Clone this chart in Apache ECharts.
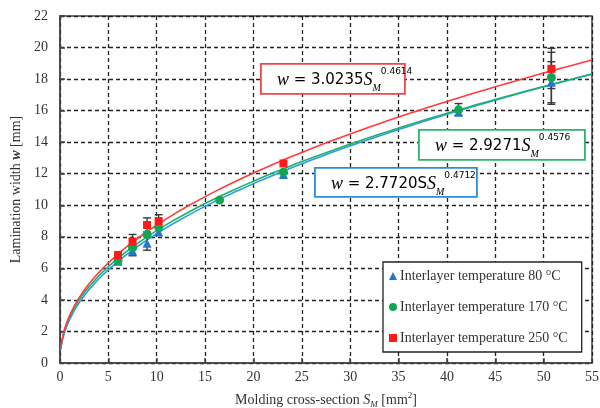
<!DOCTYPE html>
<html><head><meta charset="utf-8">
<script src="https://cdn.jsdelivr.net/npm/echarts@6/dist/echarts.min.js"></script>
<style>html,body{margin:0;padding:0;background:#fff}#c{width:600px;height:408px}</style>
</head><body><div id="c"></div>
<script>
// ---- data ----
const seriesNames = ['Interlayer temperature 80 °C','Interlayer temperature 170 °C','Interlayer temperature 250 °C'];
const xTicksMax = 55, yTicksMax = 22;
const blueX  = [6.0, 7.5, 9.0, 10.2, 23.1, 41.2, 50.8];
const blueY  = [6.45, 7.1, 7.6, 8.3, 11.95, 15.9, 17.8];
const greenX = [6.0, 7.5, 9.0, 10.2, 16.5, 23.1, 41.2, 50.8];
const greenY = [6.5, 7.3, 8.15, 8.6, 10.33, 12.1, 16.05, 18.1];
const redX   = [6.0, 7.5, 9.0, 10.2, 23.1, 50.8];
const redY   = [6.85, 7.7, 8.75, 9.0, 12.65, 18.65];
// error bars [x, low, high]
const blueErr  = [[7.5, 6.8, 7.4], [9.0, 7.15, 8.05], [50.8, 16.5, 19.1]];
const greenErr = [[41.2, 15.7, 16.45], [50.8, 16.4, 19.7]];
const redErr   = [[7.5, 7.25, 8.15], [9.0, 8.3, 9.2], [10.2, 8.6, 9.4], [50.8, 17.4, 19.95]];
// power-law fit coefficients shown on the chart: w = a * S^b
const fitA = [2.7720, 2.9271, 3.0235];
const fitB = [0.4712, 0.4576, 0.4614];
const fitText = ['2.7720S', '2.9271', '3.0235'];

const colors = ['#2478C8', '#12A652', '#FF1A1A'];
const curveColors = ['#2E9BE0', '#1DB26B', '#FF3B3B'];

function zip(xs, ys){ return xs.map((x,i)=>[x, ys[i]]); }
function fitCurve(a, b){
  const xs = [0.08, 0.15, 0.3, 0.5, 0.75, 1, 1.5, 2, 2.5, 3, 4, 5];
  for (let x = 6; x <= 55; x += 1) xs.push(x);
  return xs.map(x => [x, a * Math.pow(x, b)]);
}

const serif = 'Liberation Serif, Times New Roman, serif';
const chart = echarts.init(document.getElementById('c'), null, {renderer:'canvas'});

function errSeries(data, z){
  return {
    type:'custom', data: data, z: z, silent:true,
    renderItem: function(params, api){
      const x = api.value(0);
      const lo = api.coord([x, api.value(1)]);
      const hi = api.coord([x, api.value(2)]);
      const w = 4;
      const st = {stroke:'#3a3a3a', lineWidth:1.4};
      return {type:'group', children:[
        {type:'line', shape:{x1:lo[0], y1:lo[1], x2:hi[0], y2:hi[1]}, style:st},
        {type:'line', shape:{x1:lo[0]-w, y1:lo[1], x2:lo[0]+w, y2:lo[1]}, style:st},
        {type:'line', shape:{x1:hi[0]-w, y1:hi[1], x2:hi[0]+w, y2:hi[1]}, style:st}
      ]};
    }
  };
}

const eqRich = {
  w:{fontFamily:serif, fontStyle:'italic', fontSize:18, color:'#404040', lineHeight:26},
  t:{fontFamily:'DejaVu Sans, sans-serif', fontSize:15, color:'#404040', lineHeight:26},
  s:{fontFamily:serif, fontStyle:'italic', fontSize:18, color:'#404040', lineHeight:26},
  sub:{fontFamily:serif, fontStyle:'italic', fontSize:10, color:'#404040', verticalAlign:'bottom', lineHeight:19},
  sup:{fontFamily:'DejaVu Sans, sans-serif', fontSize:9, color:'#404040', verticalAlign:'top', lineHeight:22}
};
function eqBox(left, top, w, h, color, coef, exp){
  return {type:'group', left:left, top:top, z:100, children:[
    {type:'rect', z:100, shape:{x:0,y:0,width:w,height:h}, style:{fill:'#fff', stroke:color, lineWidth:1.8}},
    {type:'text', z:101, x:16, y:h/2 + 1.5, style:{text:'{w|w}{t| = '+coef+'}{s|S}{sub|M}{sup|'+exp+'}', rich:eqRich, verticalAlign:'middle', textVerticalAlign:'middle'}}
  ]};
}

const option = {
  animation:false,
  backgroundColor:'#fff',
  grid:{left:60, right:8, top:16, bottom:45, outerBoundsMode:'none', containLabel:false, show:true, borderColor:'#444', borderWidth:1.5, backgroundColor:'transparent'},
  xAxis:{
    type:'value', min:0, max:xTicksMax, interval:5,
    name:'Molding cross-section {i|S}{sub|M} [mm{sup|2}]',
    nameLocation:'middle', nameGap:28,
    nameTextStyle:{fontFamily:serif, fontSize:14, color:'#333',
      rich:{i:{fontFamily:serif, fontStyle:'italic', fontSize:14, color:'#333'},
            sub:{fontFamily:serif, fontStyle:'italic', fontSize:9, color:'#333', verticalAlign:'bottom', lineHeight:18},
            sup:{fontFamily:serif, fontSize:9, color:'#333', verticalAlign:'top', lineHeight:14}}},
    axisLine:{lineStyle:{color:'#444', width:1.5}},
    axisTick:{inside:true, length:5, lineStyle:{color:'#444', width:1.5}},
    axisLabel:{fontFamily:serif, fontSize:14, color:'#333', margin:7},
    splitLine:{show:true, lineStyle:{color:'#222', width:1.3, type:[4,3]}}
  },
  yAxis:{
    type:'value', min:0, max:yTicksMax, interval:2,
    name:'Lamination width {b|w} [mm]',
    nameLocation:'middle', nameGap:30,
    nameTextStyle:{fontFamily:serif, fontSize:14, color:'#333',
      rich:{b:{fontFamily:serif, fontStyle:'italic', fontWeight:'bold', fontSize:14, color:'#333'}}},
    axisLine:{lineStyle:{color:'#444', width:1.5}},
    axisTick:{inside:true, length:5, lineStyle:{color:'#444', width:1.5}},
    axisLabel:{fontFamily:serif, fontSize:14, color:'#333', margin:12},
    splitLine:{show:true, lineStyle:{color:'#222', width:1.3, type:[4,3]}}
  },
  legend:{
    data:seriesNames, orient:'vertical', left:383, top:262,
    width:190, padding:[7,14,7,6], itemGap:17,
    backgroundColor:'#fff', borderColor:'#222', borderWidth:1.3,
    itemWidth:8, itemHeight:8, z:50,
    textStyle:{fontFamily:serif, fontSize:14, color:'#333', padding:[0,0,0,-2]}
  },
  series:[
    {type:'line', data:fitCurve(fitA[0], fitB[0]), showSymbol:false, symbol:'none', lineStyle:{color:curveColors[0], width:1.6}, z:2, silent:true},
    {type:'line', data:fitCurve(fitA[1], fitB[1]), showSymbol:false, symbol:'none', lineStyle:{color:curveColors[1], width:1.6}, z:2, silent:true},
    {type:'line', data:fitCurve(fitA[2], fitB[2]), showSymbol:false, symbol:'none', lineStyle:{color:curveColors[2], width:1.6}, z:2, silent:true},
    errSeries(blueErr, 3), errSeries(greenErr, 3), errSeries(redErr, 3),
    {name:seriesNames[0], type:'scatter', data:zip(blueX, blueY), symbol:'triangle', symbolSize:9, itemStyle:{color:colors[0], opacity:1}, z:4},
    {name:seriesNames[1], type:'scatter', data:zip(greenX, greenY), symbol:'circle', symbolSize:9, itemStyle:{color:colors[1], opacity:1}, z:5},
    {name:seriesNames[2], type:'scatter', data:zip(redX, redY), symbol:'rect', symbolSize:8, itemStyle:{color:colors[2], opacity:1}, z:6}
  ],
  graphic:[
    eqBox(260, 63, 144, 30, '#F0474B', fitText[2], fitB[2].toFixed(4)),
    eqBox(418, 129, 166, 30, '#2DB36A', fitText[1], fitB[1].toFixed(4)),
    eqBox(314, 167, 162, 29, '#2E8BD6', fitText[0], fitB[0].toFixed(4))
  ]
};
chart.setOption(option);
</script></body></html>
